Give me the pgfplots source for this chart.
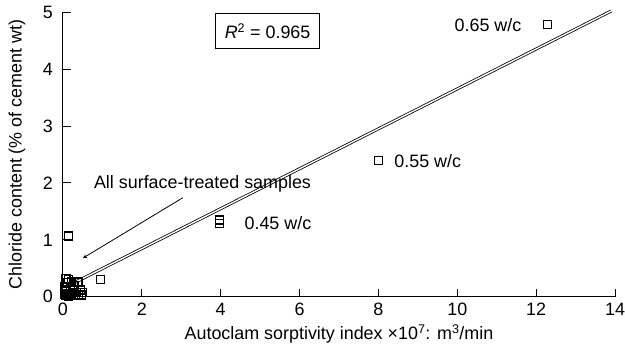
\documentclass[border=0pt]{standalone}
\usepackage{fontspec}
\setmainfont{Liberation Sans}
\usepackage{pgfplots}
\pgfplotsset{compat=1.18}
\begin{document}
\fontsize{18}{21}\selectfont
\begin{tikzpicture}
\begin{axis}[
  scale only axis,
  width=553bp, height=285bp,
  xmin=0, xmax=14, ymin=0, ymax=5,
  axis x line*=bottom, axis y line*=left,
  axis line style={line width=1.1pt},
  xtick={0,2,...,14}, ytick={0,1,...,5},
  tick align=inside,
  major tick length=8bp,
  tick style={line width=1pt, black},
  /pgf/number format/assume math mode=true,
  ticklabel style={font=\fontsize{18}{21}\selectfont},
  xticklabel style={inner xsep=0pt},
  yticklabel style={xshift=-4pt},
  label style={font=\fontsize{18}{21}\selectfont},
  xlabel={Autoclam sorptivity index ×10\textsuperscript{7}: m\textsuperscript{3}/min},
  ylabel={Chloride content (\% of cement wt)},
  xlabel style={at={(axis description cs:0.5,-0.13)}, anchor=center},
  ylabel style={at={(axis description cs:-0.083,0.5)}, anchor=center},
  clip=false,
]
\path (rel axis cs:-0.1139,-0.1895) rectangle (rel axis cs:1.0163,1.0421);
\addplot[black, double=white, double distance=1.4pt, line width=0.8pt] coordinates {(0.3,0.25) (13.9,5.02)};
\addplot[only marks, mark=square, mark size=4bp, mark options={line width=1.3pt, black, fill=white}] coordinates {
(12.28,4.78) (8.0,2.39) (3.97,1.35) (3.97,1.29) (0.15,1.07) (0.95,0.3)
(0.08,0.32) (0.15,0.30) (0.12,0.25) (0.22,0.27) (0.38,0.26) (0.28,0.2)
(0.05,0.18) (0.2,0.15) (0.1,0.12) (0.3,0.12) (0.45,0.12) (0.5,0.08)
(0.05,0.05) (0.12,0.06) (0.18,0.04) (0.25,0.07) (0.32,0.04) (0.4,0.03)
(0.48,0.03) (0.08,0.02) (0.15,0.01) (0.22,0.02) (0.05,0.1) (0.35,0.08)
};
\node[draw, line width=0.8pt, inner xsep=9bp, inner ysep=10bp] at (axis cs:5.19,4.67) {\textit{R}\textsuperscript{2} = 0.965};
\node[anchor=east] at (axis cs:11.78,4.78) {0.65 w/c};
\node[anchor=west] at (axis cs:8.25,2.39) {0.55 w/c};
\node[anchor=west] at (axis cs:4.45,1.3) {0.45 w/c};
\node at (axis cs:3.54,1.98) {All surface-treated samples};
\draw[-stealth, line width=0.8pt] (axis cs:3.04,1.74) -- (axis cs:0.51,0.68);
\end{axis}
\end{tikzpicture}
\end{document}
